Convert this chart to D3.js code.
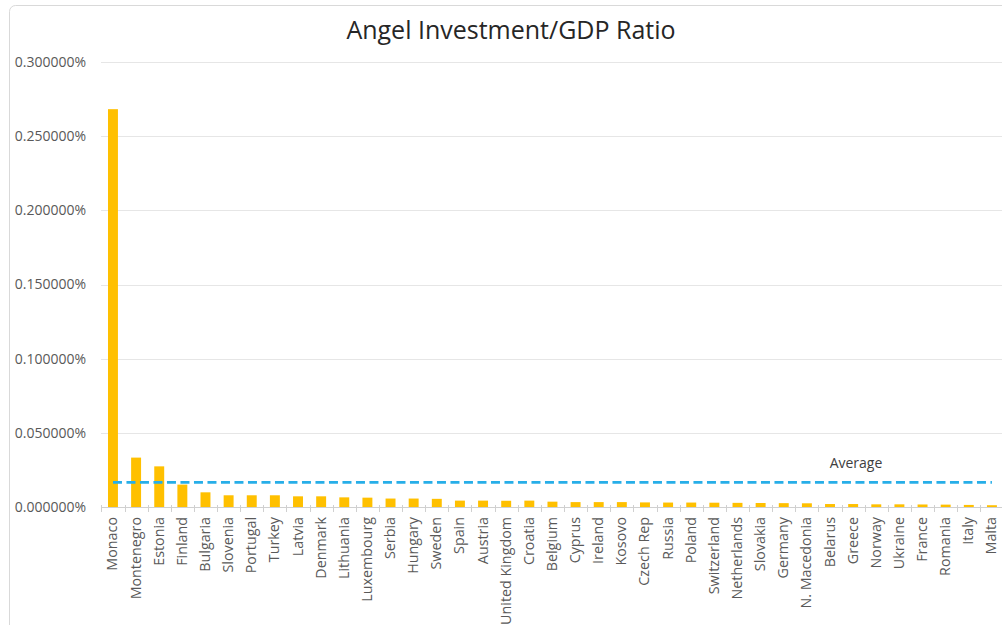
<!DOCTYPE html>
<html>
<head>
<meta charset="utf-8">
<script src="https://cdn.jsdelivr.net/npm/d3@7"></script>
<style>
  html, body { margin: 0; padding: 0; background: #fff; }
  svg { display: block; font-family: "Open Sans", "Liberation Sans", Arial, sans-serif; }
</style>
</head>
<body>
<svg id="chart" width="1002" height="625"></svg>
<script>
(() => {
  "use strict";

  // ---- data (values in percent of GDP) ----
  const countries = [
    "Monaco", "Montenegro", "Estonia", "Finland", "Bulgaria", "Slovenia", "Portugal",
    "Turkey", "Latvia", "Denmark", "Lithuania", "Luxembourg", "Serbia", "Hungary",
    "Sweden", "Spain", "Austria", "United Kingdom", "Croatia", "Belgium", "Cyprus",
    "Ireland", "Kosovo", "Czech Rep", "Russia", "Poland", "Switzerland", "Netherlands",
    "Slovakia", "Germany", "N. Macedonia", "Belarus", "Greece", "Norway", "Ukraine",
    "France", "Romania", "Italy", "Malta"
  ];
  const ratios = [
    0.2682, 0.0333, 0.0274, 0.0151, 0.0099, 0.0079, 0.0079,
    0.0079, 0.0072, 0.0072, 0.0065, 0.0063, 0.0057, 0.0057,
    0.0055, 0.0043, 0.0043, 0.0042, 0.0043, 0.0036, 0.0033,
    0.0033, 0.0033, 0.0031, 0.0030, 0.0030, 0.0029, 0.0028,
    0.0027, 0.0026, 0.0025, 0.0020, 0.0020, 0.0018, 0.0018,
    0.0017, 0.0016, 0.0014, 0.0012
  ];
  const average = [0.0166];
  const yTicks = [0, 0.05, 0.10, 0.15, 0.20, 0.25, 0.30];
  const title = "Angel Investment/GDP Ratio";
  const avgLabel = "Average";

  const svg = d3.select("#chart");

  // chart frame (cropped on the right like the source)
  svg.append("rect")
    .attr("x", 9.5).attr("y", 5.5)
    .attr("width", 1020).attr("height", 640)
    .attr("rx", 6)
    .attr("fill", "#fff")
    .attr("stroke", "#d9d9d9");

  const x = d3.scaleBand()
    .domain(countries)
    .range([101.4, 1003.5])
    .paddingInner(0.57)
    .paddingOuter(0.285);

  const y = d3.scaleLinear()
    .domain([0, 0.30])
    .range([507, 62]);

  // gridlines
  svg.append("g")
    .selectAll("line")
    .data(yTicks.slice(1))
    .join("line")
    .attr("x1", 101).attr("x2", 1002)
    .attr("y1", d => Math.round(y(d)) + 0.5)
    .attr("y2", d => Math.round(y(d)) + 0.5)
    .attr("stroke", "#e6e6e6")
    .attr("stroke-width", 1);

  // y axis labels
  const yAxis = d3.axisLeft(y)
    .tickValues(yTicks)
    .tickFormat(d => d.toFixed(6) + "%")
    .tickSize(0)
    .tickPadding(0);
  svg.append("g")
    .attr("transform", "translate(86,0)")
    .call(yAxis)
    .call(g => g.select(".domain").remove())
    .call(g => g.selectAll("text")
      .attr("fill", "#595959")
      .attr("font-size", 14)
      .attr("font-family", "'Open Sans', 'Liberation Sans', Arial, sans-serif"));

  // bars
  svg.append("g")
    .selectAll("rect")
    .data(countries)
    .join("rect")
    .attr("x", d => x(d))
    .attr("width", x.bandwidth())
    .attr("y", (d, i) => y(ratios[i]))
    .attr("height", (d, i) => y(0) - y(ratios[i]))
    .attr("fill", "#ffc000");

  // x axis: baseline + ticks between categories
  const step = x.step();
  const bounds = countries.map((c, i) => x.range()[0] + i * step).concat([x.range()[1]]);
  const xa = svg.append("g");
  xa.append("line")
    .attr("x1", 101).attr("x2", 1002)
    .attr("y1", y(0) + 0.5).attr("y2", y(0) + 0.5)
    .attr("stroke", "#d0d0d0");
  xa.selectAll("line.tk")
    .data(bounds)
    .join("line")
    .attr("class", "tk")
    .attr("x1", d => Math.round(d) + 0.5).attr("x2", d => Math.round(d) + 0.5)
    .attr("y1", y(0) - 2).attr("y2", y(0) + 5)
    .attr("stroke", "#d0d0d0");

  // rotated category labels
  xa.selectAll("text")
    .data(countries)
    .join("text")
    .attr("transform", d => `translate(${x(d) + x.bandwidth() / 2 + 4.5},517) rotate(-90)`)
    .attr("text-anchor", "end")
    .attr("fill", "#595959")
    .attr("font-size", 14.3)
    .text(d => d);

  // average line
  const avgLine = d3.line()
    .x(d => x(d) + x.bandwidth() / 2)
    .y(() => y(average[0]));
  svg.append("path")
    .datum([countries[0], countries[countries.length - 1]])
    .attr("d", avgLine)
    .attr("fill", "none")
    .attr("stroke", "#27aee8")
    .attr("stroke-width", 2.8)
    .attr("stroke-dasharray", "9,4.5");

  svg.append("text")
    .attr("x", 856)
    .attr("y", 468)
    .attr("text-anchor", "middle")
    .attr("fill", "#404040")
    .attr("font-size", 14)
    .text(avgLabel);

  // title
  svg.append("text")
    .attr("x", 511)
    .attr("y", 39)
    .attr("text-anchor", "middle")
    .attr("fill", "#262626")
    .attr("font-size", 25)
    .text(title);
})();
</script>
</body>
</html>
